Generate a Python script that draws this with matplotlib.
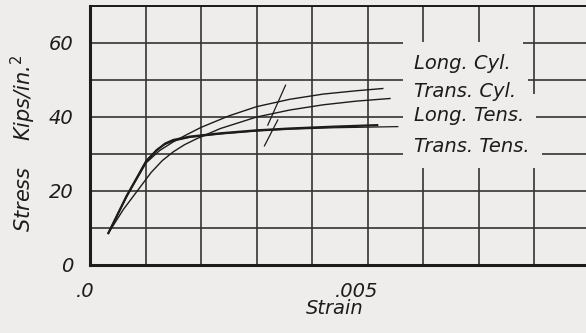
import numpy as np
import matplotlib
matplotlib.use('Agg')
import matplotlib.pyplot as plt
from matplotlib.transforms import ScaledTranslation

# strain in units of 0.001, stress in kips/in^2
long_cyl_strain = [0.33, 0.66, 1.01, 1.25, 1.5, 1.75, 2.0, 2.5, 3.0, 3.6, 4.2, 4.8, 5.27]
long_cyl_stress = [8.6, 18.5, 27.6, 30.9, 33.3, 35.3, 37.2, 40.3, 42.8, 44.8, 46.2, 47.1, 47.7]

trans_cyl_strain = [0.33, 0.6, 0.9, 1.1, 1.3, 1.5, 1.7, 1.93, 2.35, 3.0, 3.6, 4.2, 4.8, 5.4]
trans_cyl_stress = [8.6, 15.0, 21.0, 25.0, 28.2, 30.6, 32.5, 34.2, 36.9, 40.0, 41.9, 43.3, 44.3, 45.0]

long_tens_strain = [0.33, 0.66, 1.01, 1.2, 1.35, 1.5, 1.8, 2.35, 3.0, 3.6, 4.4, 5.17]
long_tens_stress = [8.6, 18.7, 28.0, 31.0, 32.8, 33.8, 34.7, 35.6, 36.4, 36.9, 37.4, 37.8]

trans_tens_strain = [0.33, 0.68, 1.01, 1.2, 1.35, 1.5, 1.8, 2.35, 3.0, 3.6, 4.4, 5.54]
trans_tens_stress = [8.6, 19.0, 28.2, 31.2, 32.6, 33.5, 34.5, 35.4, 36.2, 36.7, 37.1, 37.4]

# two short break marks across the curves
mark_strain = [[3.52, 3.20], [3.38, 3.14]]
mark_stress = [[48.6, 37.8], [39.2, 32.2]]

labels = ['Long. Cyl.', 'Trans. Cyl.', 'Long. Tens.', 'Trans. Tens.']
label_y = [54.5, 47.0, 40.5, 32.0]

paper = '#eeedeb'
ink = '#1c1c1c'

fig = plt.figure(figsize=(5.86, 3.33), dpi=100, facecolor=paper)
ax = fig.add_axes([90 / 586, 68 / 333, 500 / 586, 259 / 333])
ax.set_facecolor(paper)

s = 1e-3
ax.plot(np.array(long_cyl_strain) * s, long_cyl_stress, color=ink, lw=1.0, zorder=3)
ax.plot(np.array(trans_cyl_strain) * s, trans_cyl_stress, color=ink, lw=1.0, zorder=3)
ax.plot(np.array(long_tens_strain) * s, long_tens_stress, color=ink, lw=1.6, zorder=3)
ax.plot(np.array(trans_tens_strain) * s, trans_tens_stress, color=ink, lw=0.9, zorder=3)
for xs, ys in zip(mark_strain, mark_stress):
    ax.plot(np.array(xs) * s, ys, color=ink, lw=0.9, zorder=3)

ax.set_xlim(0, 0.009)
ax.set_ylim(0, 70)
ax.set_xticks(np.arange(0, 0.0091, 0.001), minor=True)
ax.set_yticks(np.arange(0, 71, 10), minor=True)
ax.set_xticks([0, 0.005])
ax.set_xticklabels(['.0', '.005'])
ax.set_yticks([0, 20, 40, 60])
ax.set_yticklabels(['0', '20', '40', '60'])
ax.grid(which='both', color='#333333', lw=1.2, zorder=1)
ax.set_axisbelow(True)
ax.tick_params(which='both', length=0, labelsize=14, colors=ink)
ax.tick_params(axis='x', pad=12)
ax.tick_params(axis='y', pad=12)
for lab in ax.get_xticklabels() + ax.get_yticklabels():
    lab.set_style('italic')
for lab, dx in zip(ax.get_xticklabels(), [-5, -11]):
    lab.set_transform(lab.get_transform() + ScaledTranslation(dx / 100, 0, fig.dpi_scale_trans))

for side in ['left', 'bottom']:
    ax.spines[side].set_linewidth(2.2)
    ax.spines[side].set_color(ink)
ax.spines['top'].set_linewidth(1.4)
ax.spines['top'].set_color(ink)
ax.spines['right'].set_visible(False)

# paper-coloured blanks behind the labels, then the labels on top
for txt, yv in zip(labels, label_y):
    ax.text(0.00584, yv, txt, fontsize=14, style='italic', color=paper, va='center', ha='left',
            zorder=4, bbox=dict(boxstyle='square,pad=0.6', fc=paper, ec='none'))
for txt, yv in zip(labels, label_y):
    ax.text(0.00584, yv, txt, fontsize=14, style='italic', color=ink, va='center', ha='left',
            zorder=5)

ax.set_xlabel('Strain', fontsize=14, style='italic', color=ink)
ax.xaxis.set_label_coords((335 - 90) / 500, -0.13)
ax.set_ylabel('Stress    Kips/in.$^2$', fontsize=15, style='italic', color=ink)
ax.yaxis.set_label_coords(-0.104, 0.47)

fig.savefig('out.png', dpi=100, facecolor=paper)
